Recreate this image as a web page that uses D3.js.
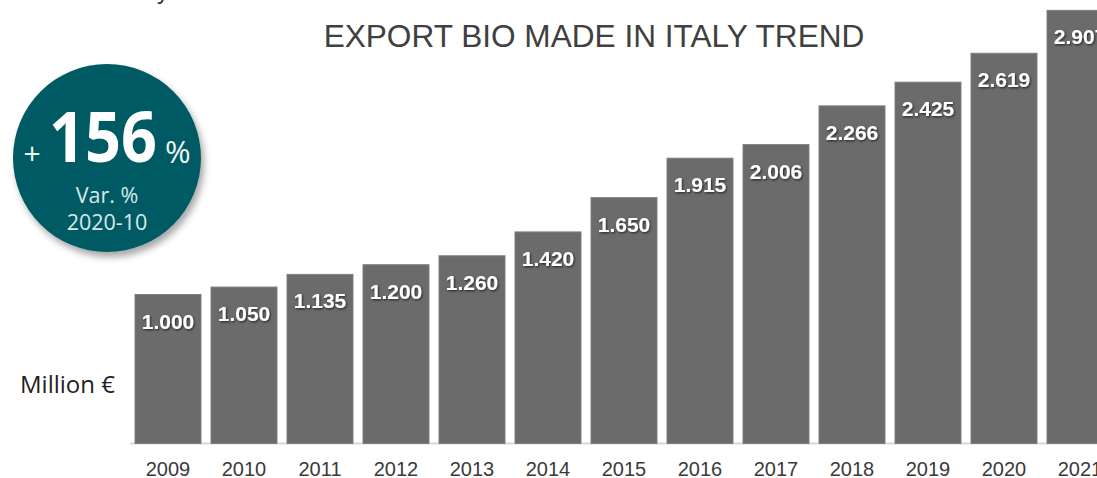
<!DOCTYPE html>
<html>
<head>
<meta charset="utf-8">
<script src="https://cdn.jsdelivr.net/npm/d3@7/dist/d3.min.js"></script>
<style>
  html, body { margin: 0; padding: 0; background: #ffffff; }
  svg { display: block; }
</style>
</head>
<body>
<svg id="chart" width="1097" height="478"></svg>
<script>
// Organic "Made in Italy" exports, million euro
const years = ["2009","2010","2011","2012","2013","2014","2015","2016","2017","2018","2019","2020","2021"];
const exportValues = [1.000, 1.050, 1.135, 1.200, 1.260, 1.420, 1.650, 1.915, 2.006, 2.266, 2.425, 2.619, 2.907];
const titleText = "EXPORT BIO MADE IN ITALY TREND";
const unitLabel = "Million €";
const badgeMain = "156";
const badgeSub = ["Var. %", "2020-10"];

const svg = d3.select("#chart");
const W = 1097, H = 478;

const defs = svg.append("defs");
const lblShadow = defs.append("filter").attr("id", "lblShadow")
  .attr("x", "-20%").attr("y", "-30%").attr("width", "140%").attr("height", "160%");
lblShadow.append("feDropShadow").attr("dx", 1).attr("dy", 1.2).attr("stdDeviation", 0.9)
  .attr("flood-color", "#000").attr("flood-opacity", 0.65);

const badgeShadow = defs.append("filter").attr("id", "badgeShadow")
  .attr("x", "-20%").attr("y", "-20%").attr("width", "150%").attr("height", "150%");
badgeShadow.append("feDropShadow").attr("dx", 3).attr("dy", 5).attr("stdDeviation", 3.5)
  .attr("flood-color", "#000").attr("flood-opacity", 0.35);

// Scales
const x = d3.scaleBand()
  .domain(years)
  .range([130, 130 + 13 * 76])
  .paddingInner(10 / 76)
  .paddingOuter(5 / 76);

const baseY = 443.5;
const y = d3.scaleLinear().domain([0, 3]).range([baseY, baseY - 3 * 149]);

// Fragment of a heading above the page edge
svg.append("text")
  .attr("x", 157).attr("y", -1)
  .attr("font-family", "Liberation Sans, Arial, sans-serif")
  .attr("font-size", 24).attr("fill", "#333")
  .text("y");

// Title
svg.append("text")
  .attr("x", 594).attr("y", 47)
  .attr("text-anchor", "middle")
  .attr("font-family", "Liberation Sans, Arial, sans-serif")
  .attr("font-size", 31.6)
  .attr("fill", "#404040")
  .text(titleText);

// Baseline axis with year labels
const axis = d3.axisBottom(x).tickSize(0).tickPadding(18.5);
const gAxis = svg.append("g")
  .attr("transform", `translate(0,${baseY})`)
  .call(axis);
gAxis.select(".domain").attr("stroke", "#d9d9d9").attr("stroke-width", 2)
  .attr("d", `M130,0H${W}`);
gAxis.selectAll(".tick text")
  .attr("font-family", "Liberation Sans, Arial, sans-serif")
  .attr("font-size", 20)
  .attr("fill", "#3a3a3a");

// Bars
const data = years.map((yr, i) => ({ year: yr, value: exportValues[i] }));
svg.append("g").selectAll("rect")
  .data(data)
  .join("rect")
  .attr("x", d => x(d.year))
  .attr("y", d => y(d.value))
  .attr("width", x.bandwidth())
  .attr("height", d => baseY - y(d.value))
  .attr("fill", "#6b6b6b")
  .attr("stroke", "#808080")
  .attr("stroke-width", 1);

// Value labels
const fmt = d3.format(".3f");
svg.append("g").selectAll("text")
  .data(data)
  .join("text")
  .attr("x", d => x(d.year) + x.bandwidth() / 2)
  .attr("y", d => y(d.value) + 34)
  .attr("text-anchor", "middle")
  .attr("font-family", "Liberation Sans, Arial, sans-serif")
  .attr("font-weight", "bold")
  .attr("font-size", 21)
  .attr("fill", "#ffffff")
  .attr("filter", "url(#lblShadow)")
  .text(d => fmt(d.value));

// Unit label
svg.append("text")
  .attr("x", 20).attr("y", 393)
  .attr("font-family", "Open Sans, Noto Sans, sans-serif")
  .attr("font-size", 24)
  .attr("fill", "#222")
  .text(unitLabel);

// Growth badge
const badge = svg.append("g");
badge.append("circle")
  .attr("cx", 107).attr("cy", 158).attr("r", 94)
  .attr("fill", "#015a64")
  .attr("filter", "url(#badgeShadow)");

const badgeFont = "Open Sans, Noto Sans, sans-serif";
badge.append("text")
  .attr("x", 32).attr("y", 164)
  .attr("text-anchor", "middle")
  .attr("font-family", badgeFont)
  .attr("font-size", 30)
  .attr("fill", "#eef5f5")
  .text("+");
badge.append("text")
  .attr("x", 49).attr("y", 162)
  .attr("font-family", badgeFont)
  .attr("font-weight", "bold")
  .attr("font-size", 69)
  .attr("textLength", 108)
  .attr("lengthAdjust", "spacingAndGlyphs")
  .attr("fill", "#ffffff")
  .text(badgeMain);
badge.append("text")
  .attr("x", 165).attr("y", 163)
  .attr("font-family", badgeFont)
  .attr("font-size", 31)
  .attr("fill", "#eef5f5")
  .text("%");
badge.append("g").selectAll("text")
  .data(badgeSub)
  .join("text")
  .attr("x", 107)
  .attr("y", (d, i) => 203 + i * 27)
  .attr("text-anchor", "middle")
  .attr("font-family", badgeFont)
  .attr("font-size", 21.5)
  .attr("fill", "#d8e8ea")
  .text(d => d);
</script>
</body>
</html>
